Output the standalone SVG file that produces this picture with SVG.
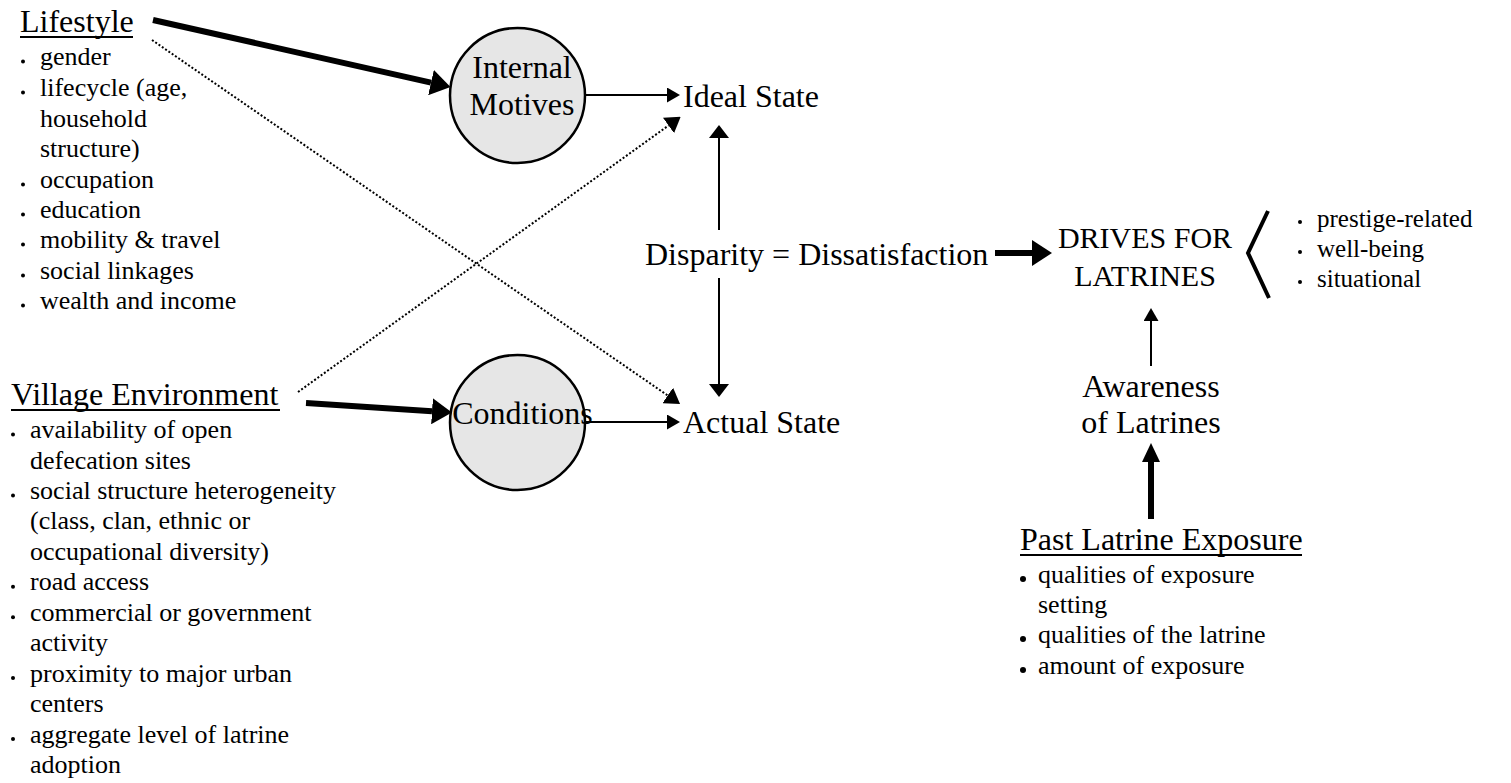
<svg xmlns="http://www.w3.org/2000/svg" width="1511" height="783" viewBox="0 0 1511 783" font-family="'Times New Roman', 'Liberation Serif', Tinos, 'DejaVu Serif', serif">
<style>
text{font-family:'Times New Roman','Liberation Serif',Tinos,'DejaVu Serif',serif;fill:#000}
.big{font-size:32px}
.drv{font-size:30px}
.li{font-size:26px}
.ls{font-size:25px}
.mid{text-anchor:middle}
.ul{stroke:#000;stroke-width:2}
.bul{fill:#000}
.node{fill:#e6e6e6;stroke:#000;stroke-width:2.5}
.thin{stroke:#000;stroke-width:2;fill:none}
.thick{stroke:#000;stroke-width:6;fill:none}
.dot{stroke:#000;stroke-width:2;stroke-dasharray:2 2;fill:none}
</style>
<defs>
<marker id="aThin" markerUnits="userSpaceOnUse" markerWidth="13" markerHeight="15" refX="0" refY="7.5" orient="auto"><path d="M0,0 L13,7.5 L0,15 z" fill="#000"/></marker>
<marker id="aWide" markerUnits="userSpaceOnUse" markerWidth="13" markerHeight="20" refX="0" refY="10" orient="auto"><path d="M0,0 L13,10 L0,20 z" fill="#000"/></marker>
<marker id="aDot" markerUnits="userSpaceOnUse" markerWidth="15" markerHeight="19" refX="0" refY="9.5" orient="auto"><path d="M0,0 L15,9.5 L0,19 z" fill="#000"/></marker>
<marker id="aThick" markerUnits="userSpaceOnUse" markerWidth="20" markerHeight="26" refX="0" refY="13" orient="auto"><path d="M0,0 L20,13 L0,26 z" fill="#000"/></marker>
<marker id="aThickN" markerUnits="userSpaceOnUse" markerWidth="19" markerHeight="18" refX="0" refY="9" orient="auto"><path d="M0,0 L19,9 L0,18 z" fill="#000"/></marker>
</defs>
<rect width="1511" height="783" fill="#fff"/>

<g id="connectors">
<line class="thick" x1="153" y1="20" x2="431" y2="82.6" marker-end="url(#aThick)"/>
<line class="thick" x1="306" y1="403" x2="432" y2="411.3" marker-end="url(#aThick)"/>
<line class="dot" x1="298" y1="392" x2="668.5" y2="125.5" marker-end="url(#aDot)"/>
<line class="dot" x1="152" y1="40" x2="667.7" y2="395.5" marker-end="url(#aDot)"/>
<line class="thin" x1="585" y1="95" x2="667" y2="95" marker-end="url(#aThin)"/>
<line class="thin" x1="585" y1="422" x2="667" y2="422" marker-end="url(#aThin)"/>
<line class="thin" x1="719" y1="230" x2="719" y2="138" marker-end="url(#aWide)"/>
<line class="thin" x1="719" y1="278" x2="719" y2="384" marker-end="url(#aWide)"/>
<line class="thick" x1="995" y1="253" x2="1032" y2="253" marker-end="url(#aThick)"/>
<line class="thin" x1="1151" y1="366" x2="1151" y2="321" marker-end="url(#aThin)"/>
<line class="thick" x1="1151" y1="519" x2="1151" y2="462" marker-end="url(#aThickN)"/>
</g>

<g id="lifestyle">
<text class="big" x="20" y="32">Lifestyle</text>
<line class="ul" x1="20" y1="37" x2="133" y2="37"/>
<circle class="bul" cx="23" cy="61.5" r="2"/>
<circle class="bul" cx="23" cy="92.5" r="2"/>
<circle class="bul" cx="23" cy="184.5" r="2"/>
<circle class="bul" cx="23" cy="214.5" r="2"/>
<circle class="bul" cx="23" cy="244.5" r="2"/>
<circle class="bul" cx="23" cy="275.5" r="2"/>
<circle class="bul" cx="23" cy="305.5" r="2"/>
<text class="li" x="40" y="65">gender</text>
<text class="li" x="40" y="96">lifecycle (age,</text>
<text class="li" x="40" y="127">household</text>
<text class="li" x="40" y="157">structure)</text>
<text class="li" x="40" y="188">occupation</text>
<text class="li" x="40" y="218">education</text>
<text class="li" x="40" y="248">mobility &amp; travel</text>
<text class="li" x="40" y="279">social linkages</text>
<text class="li" x="40" y="309">wealth and income</text>
</g>

<g id="village">
<text class="big" x="11" y="405">Village Environment</text>
<line class="ul" x1="11" y1="410" x2="280" y2="410"/>
<circle class="bul" cx="13" cy="434.5" r="2"/>
<circle class="bul" cx="13" cy="495.4" r="2"/>
<circle class="bul" cx="13" cy="586.8" r="2"/>
<circle class="bul" cx="13" cy="617.2" r="2"/>
<circle class="bul" cx="13" cy="678.1" r="2"/>
<circle class="bul" cx="13" cy="739" r="2"/>
<text class="li" x="30" y="438">availability of open</text>
<text class="li" x="30" y="468.5">defecation sites</text>
<text class="li" x="30" y="498.9">social structure heterogeneity</text>
<text class="li" x="30" y="529.4">(class, clan, ethnic or</text>
<text class="li" x="30" y="559.8">occupational diversity)</text>
<text class="li" x="30" y="590.3">road access</text>
<text class="li" x="30" y="620.7">commercial or government</text>
<text class="li" x="30" y="651.2">activity</text>
<text class="li" x="30" y="681.6">proximity to major urban</text>
<text class="li" x="30" y="712.1">centers</text>
<text class="li" x="30" y="742.5">aggregate level of latrine</text>
<text class="li" x="30" y="773">adoption</text>
</g>

<g id="internal-motives">
<circle class="node" cx="517.5" cy="95.5" r="67.5"/>
<text class="big mid" x="522" y="78">Internal</text>
<text class="big mid" x="522" y="115">Motives</text>
</g>

<g id="conditions">
<circle class="node" cx="517.5" cy="422.5" r="67.5"/>
<text class="big mid" x="522.5" y="424">Conditions</text>
</g>

<g id="ideal-state">
<text class="big" x="683" y="107">Ideal State</text>
</g>

<g id="actual-state">
<text class="big" x="683" y="433">Actual State</text>
</g>

<g id="disparity">
<text class="big" x="645" y="265">Disparity = Dissatisfaction</text>
</g>

<g id="drives">
<text class="drv mid" x="1145" y="248">DRIVES FOR</text>
<text class="drv mid" x="1145" y="286">LATRINES</text>
<polyline points="1268,211 1248,253 1269,298" fill="none" stroke="#000" stroke-width="4"/>
<circle class="bul" cx="1300" cy="222" r="2"/>
<circle class="bul" cx="1300" cy="252" r="2"/>
<circle class="bul" cx="1300" cy="282" r="2"/>
<text class="ls" x="1317" y="227">prestige-related</text>
<text class="ls" x="1317" y="257">well-being</text>
<text class="ls" x="1317" y="287">situational</text>
</g>

<g id="awareness">
<text class="big mid" x="1151" y="397">Awareness</text>
<text class="big mid" x="1151" y="433">of Latrines</text>
</g>

<g id="past-exposure">
<text class="big" x="1020" y="550">Past Latrine Exposure</text>
<line class="ul" x1="1020" y1="555" x2="1302" y2="555"/>
<circle class="bul" cx="1023" cy="579" r="3"/>
<circle class="bul" cx="1023" cy="639" r="3"/>
<circle class="bul" cx="1023" cy="670" r="3"/>
<text class="li" x="1038" y="583">qualities of exposure</text>
<text class="li" x="1038" y="613">setting</text>
<text class="li" x="1038" y="643">qualities of the latrine</text>
<text class="li" x="1038" y="674">amount of exposure</text>
</g>
</svg>
